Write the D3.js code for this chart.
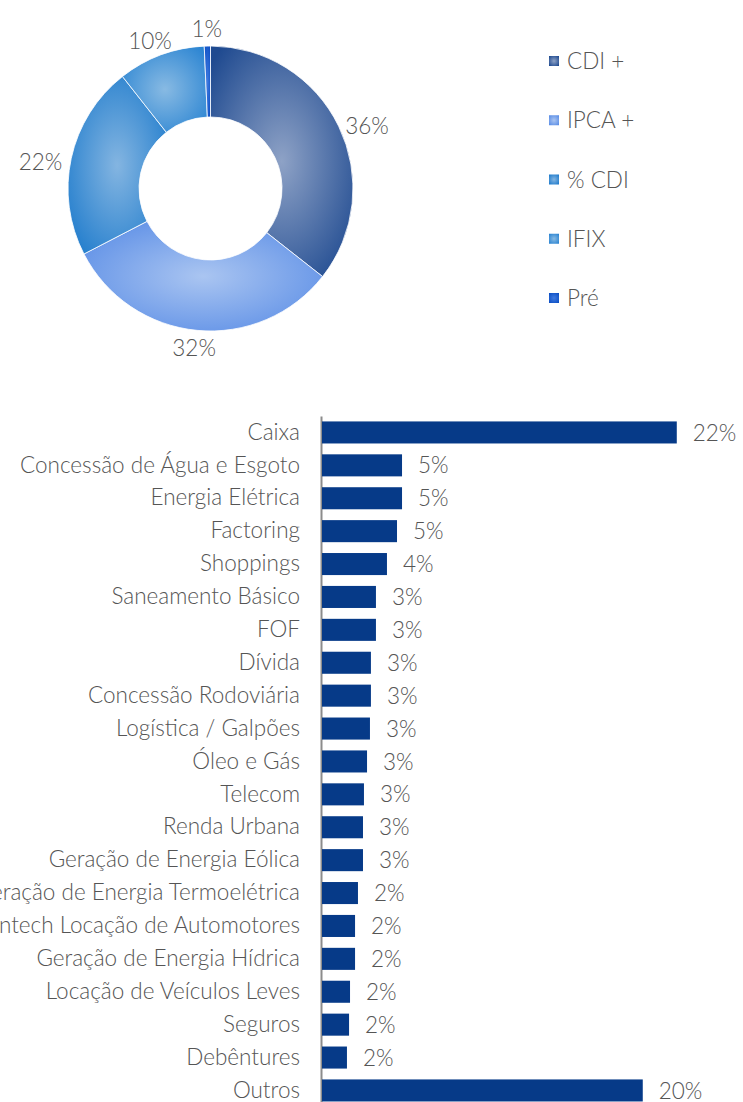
<!DOCTYPE html>
<html>
<head>
<meta charset="utf-8">
<script src="https://cdn.jsdelivr.net/npm/d3@7"></script>
<style>
  body { margin: 0; background: #fff; }
  svg { display: block; }
  text { font-family: Lato, sans-serif; font-weight: 300; }
</style>
</head>
<body>
<script>
//donut data
var donutNames = ["CDI +", "IPCA +", "% CDI", "IFIX", "Pré"];
var donutValues = [35.6, 31.8, 22.0, 9.9, 0.7];
var donutEdge = ["#1f4a90", "#5a8de6", "#1e7bcc", "#2a84d2", "#0c4fc4"];
var donutCenter = ["#8ea2c6", "#aac5f1", "#84b5e1", "#88bae3", "#3f7ae0"];

//bar data
var sectors = ["Caixa", "Concessão de Água e Esgoto", "Energia Elétrica", "Factoring", "Shoppings",
    "Saneamento Básico", "FOF", "Dívida", "Concessão Rodoviária", "Logística / Galpões",
    "Óleo e Gás", "Telecom", "Renda Urbana", "Geração de Energia Eólica",
    "Geração de Energia Termoelétrica", "Fintech Locação de Automotores",
    "Geração de Energia Hídrica", "Locação de Veículos Leves", "Seguros", "Debêntures", "Outros"];
var sectorValues = [21.9, 4.94, 4.94, 4.63, 4.01, 3.33, 3.33, 3.02, 3.02, 2.96,
    2.78, 2.59, 2.53, 2.53, 2.22, 2.04, 2.04, 1.73, 1.67, 1.54, 19.8];

var w = 743, h = 1102;
var textColor = "#555555";

var svg = d3.select("body")
    .append("svg")
    .attr("width", w)
    .attr("height", h)
    .attr("class", "container");

var defs = svg.append("defs");

//radial gradients, one per slice
donutNames.forEach(function(n, i){
    var g = defs.append("radialGradient")
        .attr("id", "grad" + i)
        .attr("cx", 0.5).attr("cy", 0.5).attr("r", 0.65);
    g.append("stop").attr("offset", "0%").attr("stop-color", donutCenter[i]);
    g.append("stop").attr("offset", "100%").attr("stop-color", donutEdge[i]);
});

//donut
var cx = 210.5, cy = 188.5, outerR = 142.5, innerR = 71.5;

var pie = d3.pie().sort(null).value(function(d){ return d; });
var arcs = pie(donutValues);
var arc = d3.arc().innerRadius(innerR).outerRadius(outerR);

var donut = svg.append("g")
    .attr("class", "donut")
    .attr("transform", "translate(" + cx + "," + cy + ")");

donut.selectAll(".slice")
    .data(arcs)
    .enter()
    .append("path")
    .attr("class", "slice")
    .attr("d", arc)
    .style("fill", function(d, i){ return "url(#grad" + i + ")"; })
    .style("stroke", "#fff")
    .style("stroke-width", 0.8);

//labels outside
donut.selectAll(".plabel")
    .data(arcs)
    .enter()
    .append("text")
    .attr("class", "plabel")
    .attr("x", function(d){
        var a = (d.startAngle + d.endAngle) / 2;
        return Math.sin(a) * 174;
    })
    .attr("y", function(d){
        var a = (d.startAngle + d.endAngle) / 2;
        return -Math.cos(a) * 160 + 8 * Math.abs(Math.sin(a));
    })
    .attr("dy", "0.35em")
    .attr("text-anchor", "middle")
    .style("font-size", "22.5px")
    .style("fill", textColor)
    .text(function(d){ return Math.round(d.value) + "%"; });

//legend
var legY = d3.scalePoint().domain(donutNames).range([61, 298]);

var legend = svg.selectAll(".legend")
    .data(donutNames)
    .enter()
    .append("g")
    .attr("class", "legend")
    .attr("transform", function(d){ return "translate(549," + legY(d) + ")"; });

legend.append("rect")
    .attr("x", 0).attr("y", -5)
    .attr("width", 10).attr("height", 10)
    .style("fill", function(d, i){ return "url(#grad" + i + ")"; });

legend.append("text")
    .attr("x", 18)
    .attr("dy", "0.36em")
    .style("font-size", "22.5px")
    .style("fill", textColor)
    .text(function(d){ return d; });

//bar chart
var step = 32.9;
var y = d3.scaleBand()
    .domain(sectors)
    .range([416, 416 + sectors.length * step])
    .paddingInner(0.33)
    .paddingOuter(0.165);

var x = d3.scaleLinear()
    .domain([0, 22])
    .range([322, 322 + 16.2 * 22]);

var yAxis = svg.append("g")
    .attr("class", "yaxis")
    .attr("transform", "translate(321,0)")
    .call(d3.axisLeft(y).tickSize(0).tickPadding(21));

yAxis.select(".domain")
    .style("stroke", "#8c8c8c")
    .style("stroke-width", 2);

yAxis.selectAll("text")
    .style("font-family", "Lato, sans-serif")
    .style("font-weight", 300)
    .style("font-size", "22.5px")
    .style("fill", textColor);

svg.selectAll(".bar")
    .data(sectorValues)
    .enter()
    .append("rect")
    .attr("class", "bar")
    .attr("x", x(0))
    .attr("y", function(d, i){ return y(sectors[i]); })
    .attr("width", function(d){ return x(d) - x(0); })
    .attr("height", y.bandwidth())
    .style("fill", "#063a88");

svg.selectAll(".blabel")
    .data(sectorValues)
    .enter()
    .append("text")
    .attr("class", "blabel")
    .attr("x", function(d){ return x(d) + 16; })
    .attr("y", function(d, i){ return y(sectors[i]) + y.bandwidth() / 2; })
    .attr("dy", "0.36em")
    .style("font-size", "22.5px")
    .style("fill", textColor)
    .text(function(d){ return Math.round(d) + "%"; });
</script>
</body>
</html>
